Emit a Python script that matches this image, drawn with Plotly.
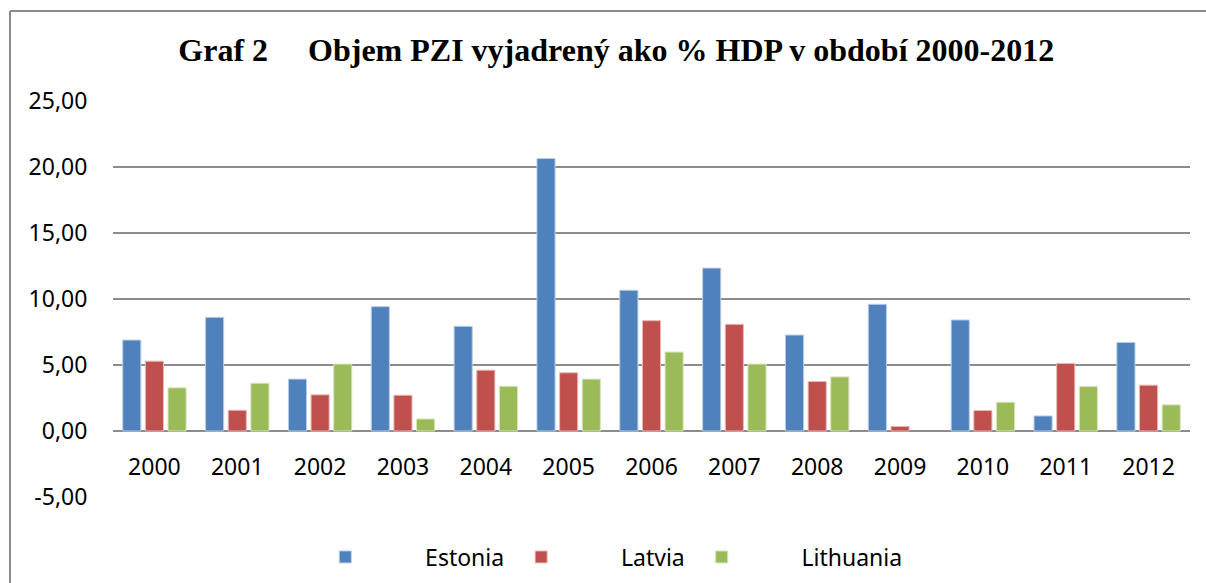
import plotly.graph_objects as go

years = ["2000", "2001", "2002", "2003", "2004", "2005", "2006",
         "2007", "2008", "2009", "2010", "2011", "2012"]
estonia = [6.89, 8.61, 3.93, 9.42, 7.93, 20.64, 10.66, 12.34, 7.27, 9.60, 8.41, 1.14, 6.71]
latvia = [5.29, 1.57, 2.74, 2.71, 4.61, 4.41, 8.36, 8.08, 3.75, 0.35, 1.55, 5.12, 3.47]
lithuania = [3.27, 3.62, 5.07, 0.91, 3.39, 3.93, 5.98, 5.07, 4.10, None, 2.18, 3.37, 1.98]

ytick_vals = [-5, 0, 5, 10, 15, 20, 25]
ytick_text = ["-5,00", "0,00", "5,00", "10,00", "15,00", "20,00", "25,00"]

series = [
    ("Estonia", estonia, "#4F81BD", "#B9CDE5"),
    ("Latvia", latvia, "#C0504D", "#E6B9B8"),
    ("Lithuania", lithuania, "#9BBB59", "#D7E4BD"),
]

NB = "\u00a0"
fig = go.Figure()
for name, vals, col, edge in series:
    fig.add_trace(go.Bar(
        x=years, y=vals,
        name=NB * 10 + name + NB * 2,
        marker=dict(color=col, line=dict(color=edge, width=1)),
    ))

FONT = "Noto Sans"
fig.update_layout(
    width=1206, height=583,
    paper_bgcolor="white", plot_bgcolor="white",
    margin=dict(l=113, r=16, t=101, b=86, autoexpand=False),
    barmode="group", bargap=0.18, bargroupgap=0.2,
    font=dict(family=FONT, size=23, color="black"),
    title=dict(
        text="Graf 2" + NB * 5 + "Objem PZI vyjadrený ako % HDP v období 2000-2012",
        font=dict(family="Liberation Serif", size=32, color="black", weight="bold"),
        xref="container", yref="container",
        x=0.511, xanchor="center", y=1 - 50 / 583, yanchor="middle",
    ),
    showlegend=True,
    legend=dict(
        orientation="h", xref="container", yref="container",
        x=0.516, xanchor="center", y=1 - 557 / 583, yanchor="middle",
        font=dict(family=FONT, size=23, color="black"),
        bgcolor="rgba(0,0,0,0)", itemclick=False,
    ),
    xaxis=dict(
        anchor="free", position=5 / 30, automargin=False,
        showgrid=False, showline=False, zeroline=False,
        ticks="outside", ticklen=15, tickcolor="rgba(0,0,0,0)",
        tickfont=dict(family=FONT, size=23, color="black"),
    ),
    yaxis=dict(
        range=[-5, 25], tickmode="array", tickvals=ytick_vals, ticktext=ytick_text,
        automargin=False,
        showgrid=True, gridcolor="#8C8C8C", gridwidth=1.5,
        zeroline=True, zerolinecolor="#8C8C8C", zerolinewidth=1.5,
        showline=False,
        ticks="outside", ticklen=20, tickcolor="rgba(0,0,0,0)",
        tickfont=dict(family=FONT, size=23, color="black"),
    ),
)

# outer chart frame: only its top and left edges are inside the picture
frame_left = (10 - 113) / 1077
frame_right = (1206 - 113) / 1077
frame_top = 1 + (101 - 11) / 396
frame_bottom = -(583 - 497) / 396
fig.add_shape(type="line", xref="paper", yref="paper",
              x0=frame_left, x1=frame_right, y0=frame_top, y1=frame_top,
              line=dict(color="#8C8C8C", width=2), layer="below")
fig.add_shape(type="line", xref="paper", yref="paper",
              x0=frame_left, x1=frame_left, y0=frame_top, y1=frame_bottom,
              line=dict(color="#8C8C8C", width=2), layer="below")

fig.write_html(
    "out.html",
    config={"displayModeBar": False},
    post_script="document.body.style.margin='0';document.body.style.overflow='hidden';",
)
